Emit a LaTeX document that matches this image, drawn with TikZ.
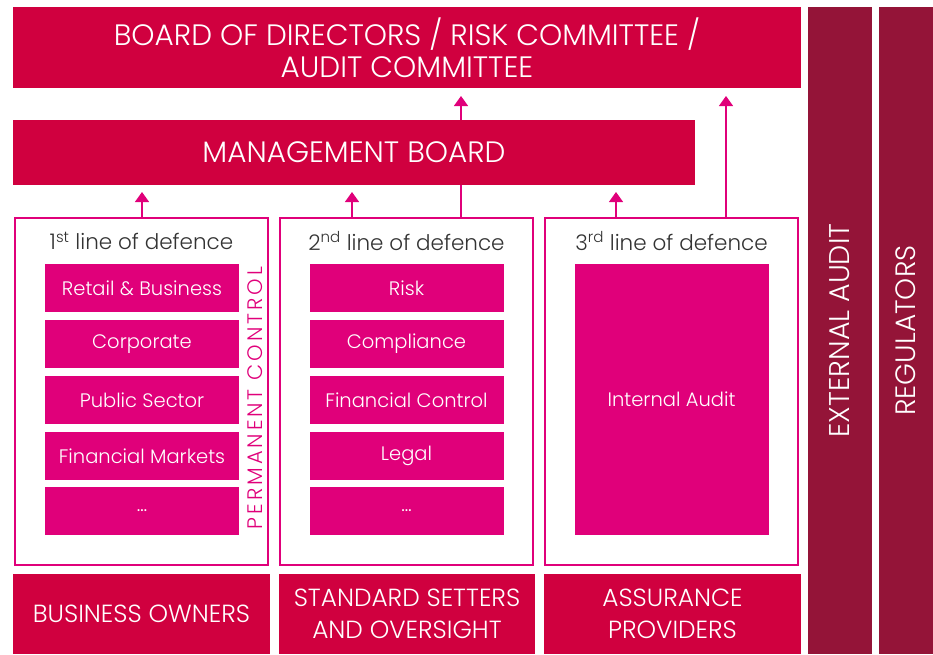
\documentclass[tikz,border=0pt]{standalone}
\usepackage{fontspec}
\setmainfont{Poppins}[UprightFont=* Light]
\newfontfamily\spacedfont{Poppins}[UprightFont=* Light, LetterSpace=14]
\usepackage{tikz}
\usetikzlibrary{arrows.meta}
\definecolor{boardred}{RGB}{208,0,63}
\definecolor{darkred}{RGB}{148,20,56}
\definecolor{linepink}{RGB}{224,0,122}
\definecolor{textgrey}{RGB}{51,51,51}

\begin{document}
\begin{tikzpicture}[x=1pt,y=-1pt,
	redbox/.style={fill=boardred, text=white, inner sep=0pt, align=center},
	sidebar/.style={fill=darkred, text=white, inner sep=0pt, minimum width=64pt, minimum height=647pt},
	linebox/.style={draw=linepink, line width=2pt, minimum width=253pt, minimum height=347pt, inner sep=0pt},
	unit/.style={fill=linepink, text=white, minimum width=194pt, minimum height=48pt, inner sep=0pt, font=\fontsize{19.5}{22}\selectfont},
	uparrow/.style={draw=linepink, line width=1.3pt, -{Triangle[width=14pt,length=10pt]}}]
	\useasboundingbox (0,0) rectangle (933,654);

	\node[redbox, minimum width=788pt, minimum height=81pt, font=\fontsize{29.5}{32}\selectfont] (board) at (407,47.5)
	{BOARD OF DIRECTORS / RISK COMMITTEE /\\ AUDIT COMMITTEE};
	\node[redbox, minimum width=682pt, minimum height=65pt, font=\fontsize{29.5}{32}\selectfont] (mgmt) at (354,152.5)
	{MANAGEMENT BOARD};

	\node[sidebar] (ext) at (839.5,330.5) {};
	\node[sidebar, minimum width=54pt] (reg) at (906,330.5) {};
	\node[rotate=90, text=white, font=\fontsize{28.5}{28}\selectfont] at (ext) {EXTERNAL AUDIT};
	\node[rotate=90, text=white, font=\fontsize{28}{28}\selectfont] at (reg) {REGULATORS};

	% three lines of defence
	\node[linebox] (first) at (141.5,391.5) {};
	\node[linebox] (second) at (406.5,391.5) {};
	\node[linebox] (third) at (671.5,391.5) {};
	\node[text=textgrey, font=\fontsize{21.5}{24}\selectfont] at (141.5,241) {1\textsuperscript{st} line of defence};
	\node[text=textgrey, font=\fontsize{21.5}{24}\selectfont] at (406.5,241) {2\textsuperscript{nd} line of defence};
	\node[text=textgrey, font=\fontsize{21.5}{24}\selectfont] at (671.5,241) {3\textsuperscript{rd} line of defence};

	\foreach \y/\txt [count=\i] in {288/Retail \& Business, 344/Corporate, 400/Public Sector, 456/Financial Markets, 511/\dots}
	\node[unit] (b\i) at (142,\y) {\txt};
	\foreach \y/\txt [count=\i] in {288/Risk, 344/Compliance, 400/Financial Control, 456/Legal, 511/\dots}
	\node[unit] (s\i) at (406.5,\y) {\txt};
	\node[unit, minimum height=271pt] (audit) at (671.5,399.5) {Internal Audit};

	\node[rotate=90, text=linepink, font=\spacedfont\fontsize{21}{22}\selectfont] (perm) at (255.5,398) {PERMANENT CONTROL};

	% bottom row
	\node[redbox, minimum width=257pt, minimum height=80pt, font=\fontsize{24.8}{32}\selectfont] (owners) at (141.5,614) {BUSINESS OWNERS};
	\node[redbox, minimum width=256pt, minimum height=80pt, font=\fontsize{24.8}{32}\selectfont] (setters) at (407,614) {STANDARD SETTERS\\AND OVERSIGHT};
	\node[redbox, minimum width=257pt, minimum height=80pt, font=\fontsize{24.8}{32}\selectfont] (assur) at (672.5,614) {ASSURANCE\\PROVIDERS};

	% arrows
	\coordinate (tip) at (0,96);
	\draw[uparrow] (first.north -| b1) -- ++(0,-25);
	\draw[uparrow] (second.north -| 352,0) -- ++(0,-25);
	\draw[uparrow] (third.north -| 616,0) -- ++(0,-25);
	\draw[draw=linepink, line width=1.3pt] (second.north -| 461,0) -- (mgmt.south -| 461,0);
	\draw[uparrow] (mgmt.north -| 461,0) -- (tip -| 461,0);
	\draw[uparrow] (third.north -| 726,0) -- (tip -| 726,0);
\end{tikzpicture}
\end{document}
